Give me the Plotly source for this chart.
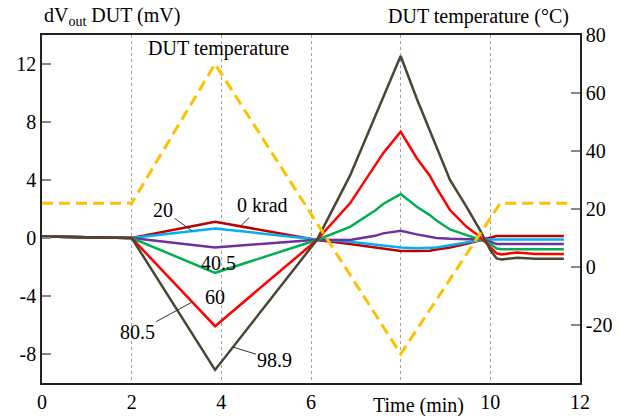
import numpy as np
import plotly.graph_objects as go

# ---------------- data ----------------
time_min = [0, 2, 3.86, 6.13, 6.87, 7.43, 7.61, 8.0, 8.36, 8.65, 8.8, 9.1, 9.47, 9.77,
            10.0, 10.14, 10.25, 10.6, 11.0, 11.64]

dv_0krad = [0.1, 0.0, 1.12, -0.14, -0.42, -0.68, -0.76, -0.9, -0.9, -0.88, -0.8, -0.65, -0.4,
            -0.15, 0.05, 0.13, 0.13, 0.13, 0.13, 0.13]
dv_20 = [0.1, 0.0, 0.66, -0.1, -0.26, -0.45, -0.52, -0.65, -0.7, -0.7, -0.65, -0.5, -0.3,
         -0.15, -0.1, -0.1, -0.1, -0.1, -0.1, -0.1]
dv_40_5 = [0.1, 0.0, -0.65, -0.12, -0.14, 0.15, 0.32, 0.5, 0.25, 0.08, 0.0, -0.05, -0.08,
           -0.1, -0.25, -0.42, -0.42, -0.42, -0.42, -0.42]
dv_60 = [0.1, 0.0, -2.4, -0.14, 0.77, 1.9, 2.35, 3.03, 2.15, 1.58, 1.2, 0.59, 0.2,
         -0.1, -0.4, -0.72, -0.77, -0.77, -0.77, -0.77]
dv_80_5 = [0.1, 0.0, -6.08, -0.14, 2.39, 5.0, 5.85, 7.33, 5.5, 4.3, 3.45, 1.93, 0.77,
           0.08, -0.6, -1.06, -1.13, -1.0, -1.1, -1.11]
dv_98_9 = [0.1, 0.0, -9.1, -0.14, 4.3, 8.4, 9.6, 12.55, 9.6, 7.44, 6.29, 4.0, 2.15,
           0.55, -0.83, -1.41, -1.48, -1.37, -1.43, -1.43]

temp_time = [0, 2, 3.86, 8.0, 10.22, 11.73]
temp_c = [22, 22, 70, -30, 22, 22]

series_names = ["0 krad", "20", "40.5", "60", "80.5", "98.9"]
series_values = [dv_0krad, dv_20, dv_40_5, dv_60, dv_80_5, dv_98_9]
series_colors = ["#C00000", "#00B0F0", "#7030A0", "#00B050", "#FF0000", "#4B4634"]

x_tickvals = [0, 2, 4, 6, 10, 12]
x_ticktext = ["0", "2", "4", "6", "10", "12"]
x_minor_grid = [8]
y_tickvals = [-8, -4, 0, 4, 8, 12]
y_ticktext = ["-8", "-4", "0", "4", "8", "12"]
y2_tickvals = [-20, 0, 20, 40, 60, 80]
y2_ticktext = ["-20", "0", "20", "40", "60", "80"]

FONT = "Liberation Serif"
TXT = dict(family=FONT, size=20, color="black")

fig = go.Figure()

for i in range(len(series_names)):
    fig.add_trace(go.Scatter(x=time_min, y=series_values[i], mode="lines",
                             line=dict(color=series_colors[i], width=2.5),
                             name=series_names[i], yaxis="y"))

fig.add_trace(go.Scatter(x=temp_time, y=temp_c, mode="lines",
                         line=dict(color="#FFC000", width=3, dash="11px,6px"),
                         name="DUT temperature", yaxis="y2"))

# ---------------- annotations ----------------
def on_curve(name, t):
    i = series_names.index(name)
    return t, float(np.interp(t, time_min, series_values[i]))

ann = []
leader = [("0 krad", 4.42, 22, -21),
          ("20", 3.35, -29, -21),
          ("80.5", 3.35, -55, 30),
          ("98.9", 4.26, 42, 13)]
for name, t, ax, ay in leader:
    x, y = on_curve(name, t)
    ann.append(dict(x=x, y=y, xref="x", yref="y", text=name, showarrow=True,
                    arrowhead=0, arrowwidth=1, arrowcolor="#333", ax=ax, ay=ay,
                    font=TXT))

ann.append(dict(x=3.93, y=-1.75, xref="x", yref="y", text="40.5", showarrow=False, font=TXT))
ann.append(dict(x=3.86, y=-4.06, xref="x", yref="y", text="60", showarrow=False, font=TXT))
ann.append(dict(x=3.93, y=13.04, xref="x", yref="y", text="DUT temperature", showarrow=False, font=TXT))
ann.append(dict(x=0, y=1.052, xref="paper", yref="paper", xanchor="left", yanchor="middle",
                text="dV<sub>out</sub> DUT (mV)", showarrow=False, font=TXT))
ann.append(dict(x=0.983, y=1.052, xref="paper", yref="paper", xanchor="right", yanchor="middle",
                text="DUT temperature (°C)", showarrow=False, font=TXT))
ann.append(dict(x=0.7007, y=-0.066, xref="paper", yref="paper", xanchor="center", yanchor="middle",
                text="Time (min)", showarrow=False, font=TXT))

fig.update_layout(
    width=619, height=416,
    margin=dict(l=42, r=39, t=35, b=33),
    paper_bgcolor="white", plot_bgcolor="white",
    showlegend=False,
    font=TXT,
    xaxis=dict(range=[0, 12], tickvals=x_tickvals, ticktext=x_ticktext, ticks="",
               showgrid=True, gridcolor="#A0A0A0", griddash="dot", gridwidth=1,
               minor=dict(tickvals=x_minor_grid, showgrid=True, gridcolor="#A0A0A0",
                          griddash="dot", gridwidth=1, ticks=""),
               showline=True, linecolor="#222", linewidth=1.5, mirror=True,
               zeroline=False, tickfont=TXT, automargin=False),
    yaxis=dict(range=[-10, 14], tickvals=y_tickvals, ticktext=y_ticktext,
               ticks="inside", ticklen=9, tickcolor="#888", tickwidth=1.5,
               showgrid=False, showline=True, linecolor="#222", linewidth=1.5,
               zeroline=False, tickfont=TXT, automargin=False),
    yaxis2=dict(range=[-40, 80], tickvals=y2_tickvals, ticktext=y2_ticktext,
                overlaying="y", side="right",
                ticks="inside", ticklen=9, tickcolor="#888", tickwidth=1.5,
                showgrid=False, showline=True, linecolor="#222", linewidth=1.5,
                zeroline=False, tickfont=TXT, automargin=False),
    annotations=ann,
)

fig.write_html("out.html")
